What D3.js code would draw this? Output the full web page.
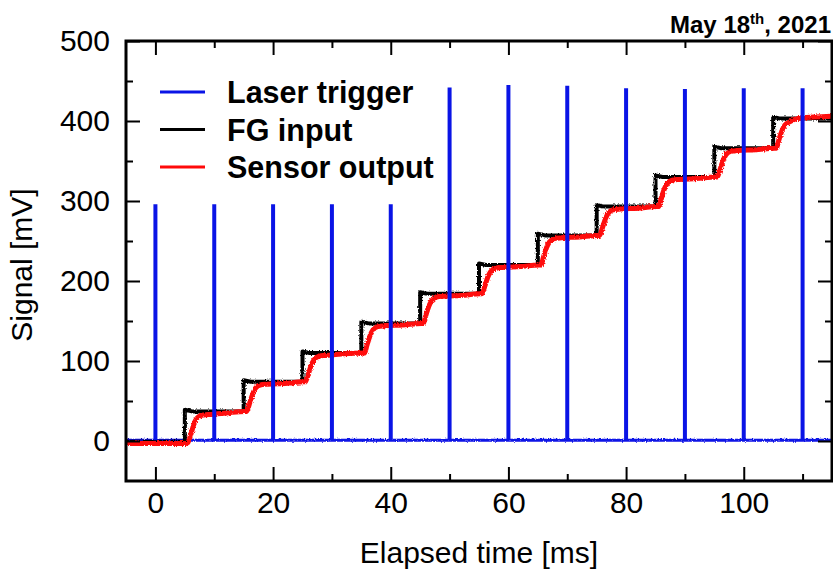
<!DOCTYPE html>
<html><head><meta charset="utf-8">
<script src="https://cdn.jsdelivr.net/npm/d3@7"></script>
<style>body{margin:0;background:#fff} svg{display:block}</style>
</head><body><svg id="c" width="833" height="571"></svg>
<script>
// ---- data ----
const triggerTimes   = [0, 10, 20, 30, 40, 50, 60, 70, 80, 90, 100, 110];
const triggerHeights = [296, 296, 296, 296, 296, 442, 445, 444, 441, 440, 441, 441];
const triggerBaseline = [[-5, 0.8], [115, 0.8]];

const stepTimes = [5, 15, 25, 35, 45, 55, 65, 75, 85, 95, 105];
const fgLevels  = [-1, 37, 74, 110, 147, 184, 220, 257, 293, 330, 366, 403];
const fgOvershoot = [2, 2, 2, 2, 2, 2, 2, 2, 2, 2, 2];

const sensorTrace = [
  [-5,-3],[5.2,-3],
  [5.5,-2],[6.0,8],[6.5,20],[7.0,28],[7.8,32],[9,33],[12,35],[15.2,37],
  [15.5,37],[16.0,47],[16.5,58],[17.0,66],[17.8,70],[19,71],[22,72],[25.2,74],
  [25.5,74],[26.0,84],[26.5,95],[27.0,102],[27.8,106],[29,107],[32,109],[35.2,110],
  [35.5,110],[36.0,121],[36.5,132],[37.0,139],[37.8,143],[39,144],[42,145],[45.2,147],
  [45.5,147],[46.0,158],[46.5,169],[47.0,176],[47.8,180],[49,181],[52,182],[55.2,184],
  [55.5,184],[56.0,194],[56.5,205],[57.0,212],[57.8,216],[59,217],[62,218],[65.2,220],
  [65.5,220],[66.0,231],[66.5,242],[67.0,249],[67.8,253],[69,254],[72,255],[75.2,257],
  [75.5,257],[76.0,267],[76.5,278],[77.0,285],[77.8,289],[79,290],[82,291],[85.2,293],
  [85.5,293],[86.0,304],[86.5,315],[87.0,322],[87.8,326],[89,327],[92,328],[95.2,330],
  [95.5,330],[96.0,340],[96.5,351],[97.0,358],[97.8,362],[99,363],[102,364],[105.2,366],
  [105.5,366],[106.0,377],[106.5,388],[107.0,395],[107.8,399],[109,403],[112,405],[115,406]
];

const xMajor = [0, 20, 40, 60, 80, 100];
const xMinor = [10, 30, 50, 70, 90, 110];
const yMajor = [0, 100, 200, 300, 400, 500];
const yMinor = [50, 150, 250, 350, 450];

const legendLabels = ["Laser trigger", "FG input", "Sensor output"];
const legendColors = ["#0a14e6", "#000000", "#ff0a0a"];

// ---- chart ----
const L = 126, R = 832, T = 41, B = 481;
const svg = d3.select("#c");
const font = "'Liberation Sans', Arial, Helvetica, sans-serif";
const x = d3.scaleLinear().domain([-5, 115]).range([L, R]);
const y = d3.scaleLinear().domain([-50, 500]).range([B, T]);

const defs = svg.append("defs");
defs.append("clipPath").attr("id", "clip")
  .append("rect").attr("x", L).attr("y", T).attr("width", R - L).attr("height", B - T);
// visual jitter to mimic the measured traces' noise band (rendering effect only)
const f = defs.append("filter").attr("id", "noisy").attr("filterUnits", "userSpaceOnUse")
  .attr("x", 0).attr("y", 0).attr("width", 833).attr("height", 571);
f.append("feTurbulence").attr("type", "fractalNoise").attr("baseFrequency", "0.9 0.6")
  .attr("numOctaves", 1).attr("seed", 3).attr("result", "n");
f.append("feDisplacementMap").attr("in", "SourceGraphic").attr("in2", "n")
  .attr("scale", 3.5).attr("xChannelSelector", "R").attr("yChannelSelector", "G");

const plot = svg.append("g").attr("clip-path", "url(#clip)");
const traces = plot.append("g").attr("filter", "url(#noisy)");
const line = d3.line().x(d => x(d[0])).y(d => y(d[1]));

// blue baseline
traces.append("path").datum(triggerBaseline).attr("d", line)
  .attr("fill", "none").attr("stroke", legendColors[0]).attr("stroke-width", 3);

// FG input (black) built from step times and levels
const fgPts = [[-5, fgLevels[0]]];
stepTimes.forEach((t, i) => {
  fgPts.push([t, fgLevels[i]]);
  fgPts.push([t, fgLevels[i + 1] + fgOvershoot[i]]);
  fgPts.push([t + 1.2, fgLevels[i + 1]]);
});
fgPts.push([115, fgLevels[fgLevels.length - 1]]);
traces.append("path").datum(fgPts).attr("d", line)
  .attr("fill", "none").attr("stroke", legendColors[1]).attr("stroke-width", 4)
  .attr("stroke-linejoin", "round");

// Sensor output (red)
traces.append("path").datum(sensorTrace)
  .attr("d", d3.line().x(d => x(d[0])).y(d => y(d[1])).curve(d3.curveMonotoneX))
  .attr("fill", "none").attr("stroke", legendColors[2]).attr("stroke-width", 5)
  .attr("stroke-linejoin", "round");

// trigger spikes
plot.selectAll("line.spike").data(triggerTimes).join("line").attr("class", "spike")
  .attr("x1", d => x(d)).attr("x2", d => x(d))
  .attr("y1", y(triggerBaseline[0][1])).attr("y2", (d, i) => y(triggerHeights[i]))
  .attr("stroke", legendColors[0]).attr("stroke-width", 4);

// axes
function styleAxis(g) {
  g.select(".domain").remove();
  g.selectAll(".tick line").attr("stroke", "#000").attr("stroke-width", 2);
  g.selectAll("text").attr("font-family", font).attr("font-size", 30).attr("fill", "#000");
}
svg.append("g").attr("transform", `translate(0,${B})`)
  .call(d3.axisBottom(x).tickValues(xMajor).tickSize(-14).tickPadding(11).tickFormat(d3.format("d")))
  .call(styleAxis);
svg.append("g").attr("transform", `translate(0,${B})`)
  .call(d3.axisBottom(x).tickValues(xMinor).tickSize(-7).tickFormat(""))
  .call(styleAxis);
svg.append("g").attr("transform", `translate(0,${T})`)
  .call(d3.axisTop(x).tickValues(xMajor).tickSize(-14).tickFormat(""))
  .call(styleAxis);
svg.append("g").attr("transform", `translate(0,${T})`)
  .call(d3.axisTop(x).tickValues(xMinor).tickSize(-7).tickFormat(""))
  .call(styleAxis);
svg.append("g").attr("transform", `translate(${L},0)`)
  .call(d3.axisLeft(y).tickValues(yMajor).tickSize(-14).tickPadding(16).tickFormat(d3.format("d")))
  .call(styleAxis);
svg.append("g").attr("transform", `translate(${L},0)`)
  .call(d3.axisLeft(y).tickValues(yMinor).tickSize(-7).tickFormat(""))
  .call(styleAxis);
svg.append("g").attr("transform", `translate(${R},0)`)
  .call(d3.axisRight(y).tickValues(yMajor).tickSize(-14).tickFormat(""))
  .call(styleAxis);
svg.append("g").attr("transform", `translate(${R},0)`)
  .call(d3.axisRight(y).tickValues(yMinor).tickSize(-7).tickFormat(""))
  .call(styleAxis);

// frame
svg.append("rect").attr("x", L).attr("y", T).attr("width", R - L).attr("height", B - T)
  .attr("fill", "none").attr("stroke", "#000").attr("stroke-width", 3);

// axis titles
svg.append("text").attr("x", (L + R) / 2).attr("y", 563).attr("text-anchor", "middle")
  .attr("font-family", font).attr("font-size", 30).text("Elapsed time [ms]");
svg.append("text").attr("transform", `translate(32,${(T + B) / 2 + 4}) rotate(-90)`)
  .attr("text-anchor", "middle").attr("font-family", font).attr("font-size", 30).text("Signal [mV]");

// date
const dt = svg.append("text").attr("x", 831).attr("y", 33).attr("text-anchor", "end")
  .attr("font-family", font).attr("font-size", 24).attr("font-weight", "bold");
dt.append("tspan").text("May 18");
dt.append("tspan").attr("font-size", 15).attr("dy", -9).text("th");
dt.append("tspan").attr("dy", 9).text(", 2021");

// legend
const lg = svg.append("g");
legendLabels.forEach((lab, i) => {
  const yy = 103 + i * 37.5;
  lg.append("line").attr("x1", 160).attr("x2", 205).attr("y1", yy - 11).attr("y2", yy - 11)
    .attr("stroke", legendColors[i]).attr("stroke-width", 3);
  lg.append("text").attr("x", 227).attr("y", yy).attr("font-family", font)
    .attr("font-size", 30.5).attr("font-weight", "bold").text(lab);
});
</script></body></html>
